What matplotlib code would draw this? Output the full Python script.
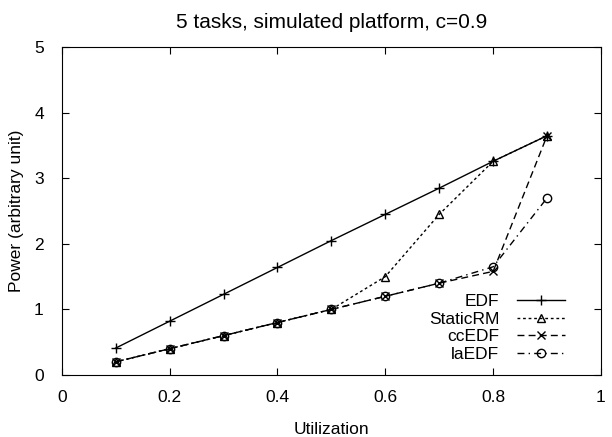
import matplotlib
matplotlib.use("Agg")
from matplotlib import pyplot as plt

plt.rcParams['font.family'] = ['Liberation Sans', 'DejaVu Sans']
plt.rcParams['font.size'] = 12.5

# utilization levels
util = [0.1, 0.2, 0.3, 0.4, 0.5, 0.6, 0.7, 0.8, 0.9]
edf = [0.41, 0.82, 1.23, 1.64, 2.05, 2.45, 2.85, 3.26, 3.65]
static_rm = [0.2, 0.4, 0.6, 0.8, 1.0, 1.5, 2.45, 3.26, 3.65]
cc_edf = [0.2, 0.4, 0.6, 0.8, 1.0, 1.2, 1.4, 1.58, 3.65]
la_edf = [0.2, 0.4, 0.6, 0.8, 1.0, 1.2, 1.4, 1.65, 2.7]

fig = plt.figure(figsize=(6.12, 4.37), dpi=100)
ax = fig.add_axes([0.101, 0.142, 0.881, 0.750])

ax.plot(util, edf, color='black', linestyle='-', linewidth=1,
        marker='+', markersize=7, label='EDF')
ax.plot(util, static_rm, color='black', linestyle=(0, (2, 2)), linewidth=1,
        marker='^', markersize=6, markerfacecolor='none', label='StaticRM')
ax.plot(util, cc_edf, color='black', linestyle=(0, (5, 3)), linewidth=1,
        marker='x', markersize=6, label='ccEDF')
ax.plot(util, la_edf, color='black', linestyle=(0, (5, 3, 1, 3)), linewidth=1,
        marker='o', markersize=6, markerfacecolor='none', label='laEDF')

ax.set_xlim(0, 1)
ax.set_ylim(0, 5)
ax.set_xticks([0, 0.2, 0.4, 0.6, 0.8, 1])
ax.set_xticklabels(['0', '0.2', '0.4', '0.6', '0.8', '1'])
ax.set_yticks([0, 1, 2, 3, 4, 5])
ax.tick_params(direction='in', top=True, right=True, length=5)
ax.tick_params(axis='x', pad=11)
ax.tick_params(axis='y', pad=13)
ax.set_xlabel('Utilization', labelpad=12)
ax.set_ylabel('Power (arbitrary unit)', labelpad=7)
ax.set_title('5 tasks, simulated platform, c=0.9', pad=14)

ax.legend(loc='lower right', bbox_to_anchor=(0.947, 0.018), borderaxespad=0,
          frameon=False, markerfirst=False, handlelength=2.8,
          labelspacing=0.15, handletextpad=1.0)

fig.savefig('out.png', dpi=100)
